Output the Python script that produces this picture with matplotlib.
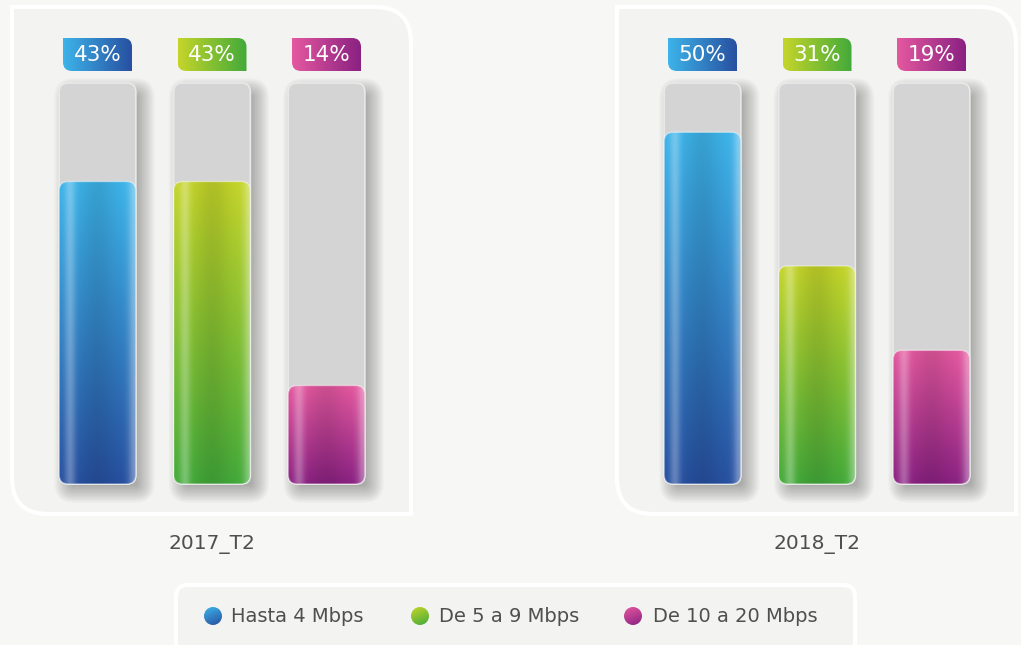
import numpy as np
import matplotlib.pyplot as plt
from matplotlib.patches import FancyBboxPatch, PathPatch, Circle
from matplotlib.path import Path
from matplotlib.colors import to_rgb

plt.rcParams['font.family'] = ['DejaVu Sans']

# Datos
categorias = ['Hasta 4 Mbps', 'De 5 a 9 Mbps', 'De 10 a 20 Mbps']
periodos = ['2017_T2', '2018_T2']
valores_2017 = [43, 43, 14]
valores_2018 = [50, 31, 19]
tope = 57  # altura del tubo gris (fondo de escala)

claros = ['#3db4e9', '#c5d52a', '#e4589f']
oscuros = ['#2750a0', '#43aa3a', '#8a2182']

W, H = 1021, 645
fig = plt.figure(figsize=(W / 100, H / 100), dpi=100)
fig.patch.set_facecolor('#f7f7f5')

# ejes de fondo en pixeles para los recuadros
fondo = fig.add_axes([0, 0, 1, 1])
fondo.set_xlim(0, W)
fondo.set_ylim(0, H)
fondo.set_autoscale_on(False)
fondo.axis('off')


def forma(x0, y0, x1, y1, rx, ry):
    # esquinas redondeadas solo arriba-derecha y abajo-izquierda
    verts = [(x0 + rx, y0), (x1, y0), (x1, y1 - ry), (x1, y1), (x1 - rx, y1),
             (x0, y1), (x0, y0 + ry), (x0, y0), (x0 + rx, y0), (x0 + rx, y0)]
    codes = [Path.MOVETO, Path.LINETO, Path.LINETO, Path.CURVE3, Path.CURVE3,
             Path.LINETO, Path.LINETO, Path.CURVE3, Path.CURVE3, Path.CLOSEPOLY]
    return Path(verts, codes)


for x0 in (12, 617):
    fondo.add_patch(PathPatch(forma(x0, 131, x0 + 399, 638, 36, 36),
                              fc='#f3f3f1', ec='white', lw=3, zorder=1))

fondo.add_patch(FancyBboxPatch((176, -20), 679, 80, boxstyle='round,pad=0,rounding_size=12',
                               fc='#f3f3f1', ec='white', lw=3, zorder=1))


def degradado(c1, c2, n=160, m=90, brillo=True):
    t = np.linspace(0, 1, n)[:, None, None]
    a = np.array(to_rgb(c1))
    b = np.array(to_rgb(c2))
    img = a * (1 - t) + b * t
    x = np.linspace(0, 1, m)[None, :, None]
    if brillo:
        luz = 0.28 * np.exp(-((x - 0.14) / 0.07) ** 2) + 0.38 * np.exp(-((x - 1.0) / 0.09) ** 2)
        sombra = 0.10 * np.exp(-((x - 0.5) / 0.22) ** 2)
        img = img * (1 - sombra)
        img = img + (1 - img) * luz
    return np.clip(img, 0, 1)


def caja(ax, x0, y0, w, h, r, ppx, ppy, **kw):
    p = FancyBboxPatch((x0, y0), w, h, boxstyle=f'round,pad=0,rounding_size={r / ppx}',
                       mutation_aspect=ppx / ppy, **kw)
    ax.add_patch(p)
    return p


ancho = 0.67
ylim_sup = 66
panel_x = [40.25, 645.25]
gris = degradado('#d4d4d4', '#d4d4d4', brillo=False)
xg = np.linspace(0, 1, gris.shape[1])[None, :, None]
gris = gris + 0.03 * np.exp(-((xg - 0.2) / 0.08) ** 2) + 0.04 * np.exp(-((xg - 1.0) / 0.08) ** 2) \
    - 0.02 * np.exp(-((xg - 0.55) / 0.2) ** 2)
gris = np.clip(gris, 0, 1)

for p, (periodo, vals) in enumerate(zip(periodos, [valores_2017, valores_2018])):
    ppy = 401 / tope
    alto_px = ylim_sup * ppy
    ax = fig.add_axes([panel_x[p] / W, (H - 484) / H, 343.5 / W, alto_px / H])
    ax.set_xlim(-0.5, 2.5)
    ax.set_ylim(0, ylim_sup)
    ax.set_autoscale_on(False)
    ax.axis('off')
    ppx = 343.5 / 3

    for i, v in enumerate(vals):
        x0 = i - ancho / 2
        # sombra difusa hacia la derecha y abajo
        for k in range(13):
            g = -5 + k * 1.4
            caja(ax, x0 + (7 - g) / ppx, (-7 - g) / ppy, ancho + 2 * g / ppx, tope + 2 * g / ppy,
                 max(8 + g, 2), ppx, ppy, fc='black', ec='none', alpha=0.022, zorder=1,
                 clip_on=False)
        # tubo gris
        tubo = caja(ax, x0, 0, ancho, tope, 9, ppx, ppy, fc='none', ec='#e9e9e9', lw=1.2,
                    zorder=3, clip_on=False)
        im = ax.imshow(gris, extent=[x0, x0 + ancho, 0, tope], aspect='auto', zorder=2,
                       interpolation='bilinear')
        im.set_clip_path(tubo)
        # barra de color
        barra = caja(ax, x0, 0, ancho, v, 9, ppx, ppy, fc='none', ec=(1, 1, 1, 0.45), lw=1,
                     zorder=5, clip_on=False)
        im = ax.imshow(degradado(claros[i], oscuros[i]), extent=[x0, x0 + ancho, 0, v],
                       aspect='auto', zorder=4, interpolation='bilinear')
        im.set_clip_path(barra)
        # etiqueta
        hw = 34.5 / ppx
        y0e, y1e = (484 - 71) / ppy, (484 - 38) / ppy
        etiqueta = PathPatch(forma(i - hw, y0e, i + hw, y1e, 9 / ppx, 9 / ppy),
                             fc='none', ec='none', transform=ax.transData)
        ax.add_patch(etiqueta)
        h_grad = degradado(claros[i], oscuros[i], n=90, brillo=False).transpose(1, 0, 2)
        im = ax.imshow(h_grad, extent=[i - hw, i + hw, y0e, y1e], aspect='auto', zorder=4,
                       interpolation='bilinear')
        im.set_clip_path(etiqueta)
        ax.text(i, (y0e + y1e) / 2, f'{v}%', color='white', fontsize=15.5, ha='center',
                va='center', zorder=6)

    ax.text(1, (484 - 545) / ppy, periodo, color='#4f4f4f', fontsize=14.5, ha='center',
            va='center')

# leyenda
for cx, tx, c1, c2, nombre in zip([213, 420, 633], [231, 439, 653], claros, oscuros, categorias):
    circ = Circle((cx, 29), 9, fc='none', ec='none', transform=fondo.transData)
    fondo.add_patch(circ)
    n = 40
    yy, xx = np.mgrid[0:1:n * 1j, 0:1:n * 1j]
    t = (0.3 * xx + 0.7 * yy)[..., None]
    img = np.array(to_rgb(c1)) * (1 - t) + np.array(to_rgb(c2)) * t
    im = fondo.imshow(img, extent=[cx - 9, cx + 9, 20, 38], aspect='auto', zorder=3)
    im.set_clip_path(circ)
    fondo.text(tx, 28, nombre, color='#4f4f4f', fontsize=14, ha='left', va='center', zorder=3)

fig.savefig('out.png', dpi=100, facecolor=fig.get_facecolor())
